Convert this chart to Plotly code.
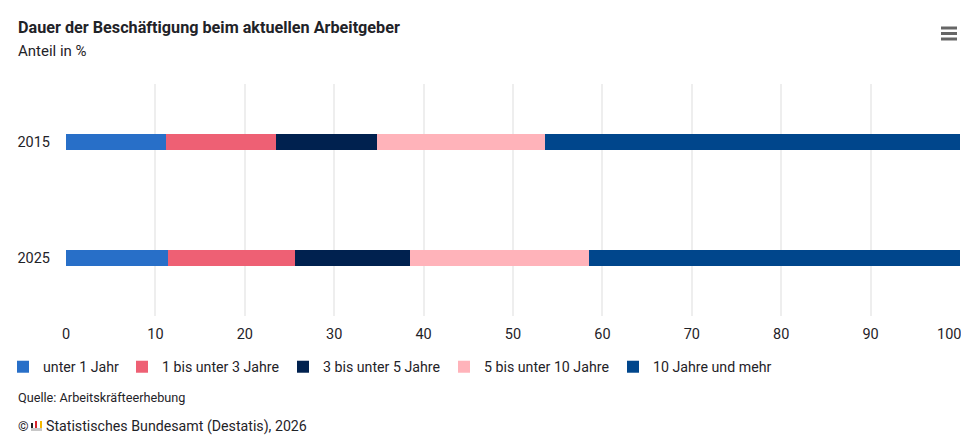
import plotly.graph_objects as go

FONT = "Roboto"
TEXT = "#1f2328"
# the page keeps its 8px body margin, so everything is placed 8px up and left
PAGE = 8
W, H = 969 - PAGE, 439 - PAGE
L, R, T, B = 66 - PAGE, 9, 84 - PAGE, 123

years = ["2015", "2025"]
categories = [
    "unter 1 Jahr",
    "1 bis unter 3 Jahre",
    "3 bis unter 5 Jahre",
    "5 bis unter 10 Jahre",
    "10 Jahre und mehr",
]
values_2015 = [11.2, 12.3, 11.3, 18.8, 46.4]
values_2025 = [11.4, 14.2, 12.9, 20.0, 41.5]
colors = ["#286fc8", "#ee6074", "#00214f", "#ffb3ba", "#00468c"]
x_ticks = [0, 10, 20, 30, 40, 50, 60, 70, 80, 90, 100]
x_tick_labels = ["0", "10", "20", "30", "40", "50", "60", "70", "80", "90", ""]
last_tick_label = "100"
legend_starts = [17, 136, 297, 458, 627]


def px(x):
    return (x - PAGE - L) / (W - L - R)


def py(y):
    return (H + PAGE - y - B) / (H - T - B)


fig = go.Figure()
for i, name in enumerate(categories):
    legend_id = "legend" if i == 0 else f"legend{i + 1}"
    fig.add_trace(go.Bar(
        y=years,
        x=[values_2015[i], values_2025[i]],
        name=name,
        orientation="h",
        legend=legend_id,
        showlegend=True,
        marker=dict(color=colors[i], line_width=0),
        hovertemplate="%{y}<br>" + name + ": %{x} %<extra></extra>",
    ))
    fig.layout[legend_id] = dict(
        visible=True,
        x=px(legend_starts[i] - 14),
        xref="paper",
        xanchor="left",
        y=py(367),
        yref="paper",
        yanchor="middle",
        orientation="h",
        font=dict(size=14.2),
        bgcolor="rgba(0,0,0,0)",
    )

fig.update_layout(
    width=W,
    height=H,
    showlegend=True,
    barmode="stack",
    bargap=0.862,
    margin=dict(l=L, r=R, t=T, b=B, autoexpand=False),
    paper_bgcolor="white",
    plot_bgcolor="white",
    font=dict(family=FONT, size=14.5, color=TEXT),
    xaxis=dict(
        range=[0, 100],
        tickvals=x_ticks,
        ticktext=x_tick_labels,
        showgrid=True,
        gridcolor="#eeeeee",
        gridwidth=2,
        zeroline=False,
        showline=False,
        ticks="",
        ticklabelstandoff=7,
    ),
    yaxis=dict(
        autorange="reversed",
        ticks="",
        showline=False,
        ticklabelstandoff=15,
    ),
)

texts = [
    ("<b>Dauer der Beschäftigung beim aktuellen Arbeitgeber</b>", 18, 28, 16.2),
    ("Anteil in %", 18, 51, 15),
    ("Quelle: Arbeitskräfteerhebung", 18, 397, 12.7),
    ("©", 18, 426, 13.5),
    ("Statistisches Bundesamt (Destatis), 2026", 46, 426, 14.2),
]
for text, x, y, size in texts:
    fig.add_annotation(text=text, x=px(x), y=py(y), xref="paper", yref="paper",
                       showarrow=False, xanchor="left", yanchor="middle",
                       xshift=-2, font=dict(size=size))

# the last tick label sits inside the plot edge, as a centred tick it would be cut off
fig.add_annotation(text=last_tick_label, x=x_ticks[-1], y=py(334), xref="x", yref="paper",
                   showarrow=False, xanchor="right", yanchor="middle", xshift=3,
                   font=dict(size=14.5))

# burger menu top right
for y0 in [28, 33.5, 39]:
    fig.add_shape(type="line", xref="paper", yref="paper",
                  x0=px(941), x1=px(957), y0=py(y0), y1=py(y0),
                  line=dict(color="#666666", width=3))

# small Destatis logo next to the copyright sign
logo_parts = [
    (31, 428, 42, 431, "#c8c8c8"),
    (31, 423, 33, 428, "#222222"),
    (35, 421, 37, 428, "#d8232a"),
    (40, 421, 42, 428, "#f5b800"),
]
for x0, y0, x1, y1, color in logo_parts:
    fig.add_shape(type="rect", xref="paper", yref="paper",
                  x0=px(x0), x1=px(x1), y0=py(y0), y1=py(y1),
                  line_width=0, fillcolor=color)

fig.write_html("out.html")
